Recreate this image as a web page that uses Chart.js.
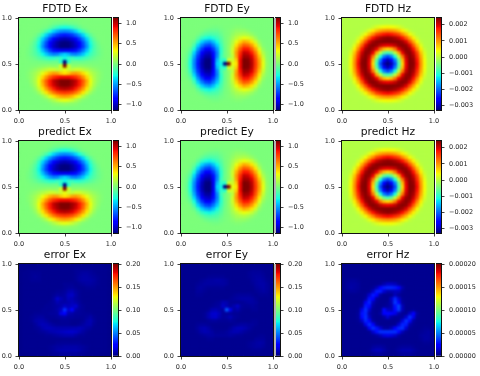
<!DOCTYPE html>
<html>
<head>
<meta charset="utf-8">
<script src="https://cdn.jsdelivr.net/npm/chart.js@4"></script>
<style>
  html, body { margin: 0; padding: 0; background: #fff; }
  #page { position: relative; width: 480px; height: 376px; overflow: hidden; }
  canvas { position: absolute; }
  .gap { position: absolute; background: #b4b4b4; }
</style>
</head>
<body>
<div id="page"></div>
<script>
// cell centres of the image grids
const gridOdd = [0.02,0.06,0.10,0.14,0.18,0.22,0.26,0.30,0.34,0.38,0.42,0.46,0.50,0.54,0.58,0.62,0.66,0.70,0.74,0.78,0.82,0.86,0.90,0.94,0.98];
const gridEven = [0.0208,0.0625,0.1042,0.1458,0.1875,0.2292,0.2708,0.3125,0.3542,0.3958,0.4375,0.4792,0.5208,0.5625,0.6042,0.6458,0.6875,0.7292,0.7708,0.8125,0.8542,0.8958,0.9375,0.9792];

// Ex, unit 0.01, rows from top to bottom
const fdtdEx = [
[0,0,0,0,0,0,0,0,0,0,0,0,0,0,0,0,0,0,0,0,0,0,0,0,0],
[0,0,0,0,0,0,0,0,-1,-3,-4,-5,-6,-5,-4,-3,-1,0,0,0,0,0,0,0,0],
[0,0,0,0,0,0,-1,-2,-7,-13,-20,-26,-28,-26,-20,-13,-7,-2,-1,0,0,0,0,0,0],
[0,0,0,0,0,-1,-6,-15,-27,-38,-47,-53,-55,-53,-47,-38,-27,-15,-6,-1,0,0,0,0,0],
[0,0,0,0,-2,-9,-22,-38,-52,-64,-73,-78,-80,-78,-73,-64,-52,-38,-22,-9,-2,0,0,0,0],
[0,0,0,-1,-7,-20,-38,-56,-72,-86,-95,-101,-103,-101,-95,-86,-72,-56,-38,-20,-7,-1,0,0,0],
[0,0,0,-4,-12,-27,-48,-68,-86,-97,-106,-112,-114,-112,-106,-97,-86,-68,-48,-27,-12,-4,0,0,0],
[0,0,-1,-6,-14,-30,-52,-71,-87,-100,-107,-113,-115,-113,-107,-100,-87,-71,-52,-30,-14,-6,-1,0,0],
[0,0,-2,-6,-13,-25,-42,-58,-72,-82,-88,-91,-91,-91,-88,-82,-72,-58,-42,-25,-13,-6,-2,0,0],
[0,0,-2,-6,-11,-18,-29,-40,-50,-56,-54,-44,-38,-44,-54,-56,-50,-40,-29,-18,-11,-6,-2,0,0],
[0,0,-1,-3,-6,-10,-14,-18,-22,-22,-18,-22,-30,-22,-18,-22,-22,-18,-14,-10,-6,-3,-1,0,0],
[0,0,0,-1,-1,-2,-3,-4,-5,-4,-5,-23,-115,-23,-5,-4,-5,-4,-3,-2,-1,-1,0,0,0],
[0,0,0,1,1,2,3,4,5,4,5,23,115,23,5,4,5,4,3,2,1,1,0,0,0],
[0,0,1,3,6,10,14,18,22,22,18,22,30,22,18,22,22,18,14,10,6,3,1,0,0],
[0,0,2,6,11,18,29,40,50,56,54,44,38,44,54,56,50,40,29,18,11,6,2,0,0],
[0,0,2,6,13,25,42,58,72,82,88,91,91,91,88,82,72,58,42,25,13,6,2,0,0],
[0,0,1,6,14,30,52,71,87,100,107,113,115,113,107,100,87,71,52,30,14,6,1,0,0],
[0,0,0,4,12,27,48,68,86,97,106,112,114,112,106,97,86,68,48,27,12,4,0,0,0],
[0,0,0,1,7,20,38,56,72,86,95,101,103,101,95,86,72,56,38,20,7,1,0,0,0],
[0,0,0,0,2,9,22,38,52,64,73,78,80,78,73,64,52,38,22,9,2,0,0,0,0],
[0,0,0,0,0,1,6,15,27,38,47,53,55,53,47,38,27,15,6,1,0,0,0,0,0],
[0,0,0,0,0,0,1,2,7,13,20,26,28,26,20,13,7,2,1,0,0,0,0,0,0],
[0,0,0,0,0,0,0,0,1,3,4,5,6,5,4,3,1,0,0,0,0,0,0,0,0],
[0,0,0,0,0,0,0,0,0,0,0,0,0,0,0,0,0,0,0,0,0,0,0,0,0]
];

// Ey, unit 0.01, rows from top to bottom
const fdtdEy = [
[0,0,0,0,0,0,0,0,0,0,0,0,0,0,0,0,0,0,0,0,0,0,0,0],
[0,0,0,0,0,0,0,0,0,0,0,0,0,0,0,0,0,0,0,0,0,0,0,0],
[0,0,0,0,0,0,0,-1,-2,-2,-1,0,0,1,2,2,1,0,0,0,0,0,0,0],
[0,0,0,0,0,-1,-4,-6,-6,-6,-3,-1,1,3,6,6,6,4,1,0,0,0,0,0],
[0,0,0,0,-2,-7,-12,-14,-13,-11,-6,-1,1,6,11,13,14,12,7,2,0,0,0,0],
[0,0,0,-1,-9,-20,-27,-30,-25,-18,-10,-2,2,10,18,25,30,27,20,9,1,0,0,0],
[0,0,-1,-6,-22,-38,-48,-52,-42,-29,-14,-3,3,14,29,42,52,48,38,22,6,1,0,0],
[0,0,-2,-15,-38,-56,-68,-71,-58,-40,-18,-4,4,18,40,58,71,68,56,38,15,2,0,0],
[0,-1,-7,-27,-52,-72,-86,-87,-72,-50,-22,-5,5,22,50,72,87,86,72,52,27,7,1,0],
[0,-3,-13,-38,-64,-86,-97,-100,-82,-56,-22,-4,4,22,56,82,100,97,86,64,38,13,3,0],
[0,-4,-20,-47,-73,-95,-106,-107,-88,-54,-18,-5,5,18,54,88,107,106,95,73,47,20,4,0],
[0,-5,-26,-53,-78,-101,-112,-113,-91,-44,-22,-23,23,22,44,91,113,112,101,78,53,26,5,0],
[0,-6,-28,-55,-80,-103,-114,-115,-91,-38,-30,-115,115,30,38,91,115,114,103,80,55,28,6,0],
[0,-5,-26,-53,-78,-101,-112,-113,-91,-44,-22,-23,23,22,44,91,113,112,101,78,53,26,5,0],
[0,-4,-20,-47,-73,-95,-106,-107,-88,-54,-18,-5,5,18,54,88,107,106,95,73,47,20,4,0],
[0,-3,-13,-38,-64,-86,-97,-100,-82,-56,-22,-4,4,22,56,82,100,97,86,64,38,13,3,0],
[0,-1,-7,-27,-52,-72,-86,-87,-72,-50,-22,-5,5,22,50,72,87,86,72,52,27,7,1,0],
[0,0,-2,-15,-38,-56,-68,-71,-58,-40,-18,-4,4,18,40,58,71,68,56,38,15,2,0,0],
[0,0,-1,-6,-22,-38,-48,-52,-42,-29,-14,-3,3,14,29,42,52,48,38,22,6,1,0,0],
[0,0,0,-1,-9,-20,-27,-30,-25,-18,-10,-2,2,10,18,25,30,27,20,9,1,0,0,0],
[0,0,0,0,-2,-7,-12,-14,-13,-11,-6,-1,1,6,11,13,14,12,7,2,0,0,0,0],
[0,0,0,0,0,-1,-4,-6,-6,-6,-3,-1,1,3,6,6,6,4,1,0,0,0,0,0],
[0,0,0,0,0,0,0,-1,-2,-2,-1,0,0,1,2,2,1,0,0,0,0,0,0,0],
[0,0,0,0,0,0,0,0,0,0,0,0,0,0,0,0,0,0,0,0,0,0,0,0],
[0,0,0,0,0,0,0,0,0,0,0,0,0,0,0,0,0,0,0,0,0,0,0,0]
];

// Hz, unit 0.00001, rows from top to bottom
const fdtdHz = [
[-5,-5,-5,-5,-5,-5,-5,-5,-5,-5,-5,-5,-5,-5,-5,-5,-5,-5,-5,-5,-5,-5,-5,-5,-5],
[-5,-5,-5,-5,-5,-5,-5,-5,-5,-4,-3,-2,-1,-2,-3,-4,-5,-5,-5,-5,-5,-5,-5,-5,-5],
[-5,-5,-5,-5,-5,-5,-5,-3,7,21,31,38,40,38,31,21,7,-3,-5,-5,-5,-5,-5,-5,-5],
[-5,-5,-5,-5,-5,-4,5,27,50,73,91,101,105,101,91,73,50,27,5,-4,-5,-5,-5,-5,-5],
[-5,-5,-5,-5,-4,13,40,77,110,148,165,180,185,180,165,148,110,77,40,13,-4,-5,-5,-5,-5],
[-5,-5,-5,-4,13,46,91,137,180,204,221,231,235,231,221,204,180,137,91,46,13,-4,-5,-5,-5],
[-5,-5,-5,5,40,91,146,195,225,237,238,240,240,240,238,237,225,195,146,91,40,5,-5,-5,-5],
[-5,-5,-3,27,77,137,195,231,238,231,210,195,190,195,210,231,238,231,195,137,77,27,-3,-5,-5],
[-5,-5,7,50,110,180,225,238,223,190,121,76,60,76,121,190,223,238,225,180,110,50,7,-5,-5],
[-5,-4,21,73,148,204,237,231,190,91,3,-62,-85,-62,3,91,190,231,237,204,148,73,21,-4,-5],
[-5,-3,31,91,165,221,238,210,121,3,-107,-184,-215,-184,-107,3,121,210,238,221,165,91,31,-3,-5],
[-5,-2,38,101,180,231,240,195,76,-62,-184,-265,-300,-265,-184,-62,76,195,240,231,180,101,38,-2,-5],
[-5,-1,40,105,185,235,240,190,60,-85,-215,-300,-327,-300,-215,-85,60,190,240,235,185,105,40,-1,-5],
[-5,-2,38,101,180,231,240,195,76,-62,-184,-265,-300,-265,-184,-62,76,195,240,231,180,101,38,-2,-5],
[-5,-3,31,91,165,221,238,210,121,3,-107,-184,-215,-184,-107,3,121,210,238,221,165,91,31,-3,-5],
[-5,-4,21,73,148,204,237,231,190,91,3,-62,-85,-62,3,91,190,231,237,204,148,73,21,-4,-5],
[-5,-5,7,50,110,180,225,238,223,190,121,76,60,76,121,190,223,238,225,180,110,50,7,-5,-5],
[-5,-5,-3,27,77,137,195,231,238,231,210,195,190,195,210,231,238,231,195,137,77,27,-3,-5,-5],
[-5,-5,-5,5,40,91,146,195,225,237,238,240,240,240,238,237,225,195,146,91,40,5,-5,-5,-5],
[-5,-5,-5,-4,13,46,91,137,180,204,221,231,235,231,221,204,180,137,91,46,13,-4,-5,-5,-5],
[-5,-5,-5,-5,-4,13,40,77,110,148,165,180,185,180,165,148,110,77,40,13,-4,-5,-5,-5,-5],
[-5,-5,-5,-5,-5,-4,5,27,50,73,91,101,105,101,91,73,50,27,5,-4,-5,-5,-5,-5,-5],
[-5,-5,-5,-5,-5,-5,-5,-3,7,21,31,38,40,38,31,21,7,-3,-5,-5,-5,-5,-5,-5,-5],
[-5,-5,-5,-5,-5,-5,-5,-5,-5,-4,-3,-2,-1,-2,-3,-4,-5,-5,-5,-5,-5,-5,-5,-5,-5],
[-5,-5,-5,-5,-5,-5,-5,-5,-5,-5,-5,-5,-5,-5,-5,-5,-5,-5,-5,-5,-5,-5,-5,-5,-5]
];

// the predict panels cannot be told apart from FDTD at this size
const predictEx = fdtdEx;
const predictEy = fdtdEy;
const predictHz = fdtdHz;

// error Ex, unit 0.001
const errorEx = [
[2,2,2,2,2,3,3,3,3,3,3,3,3,3,3,3,3,3,3,3,3,3,3,2,2],
[2,2,3,3,3,3,3,3,3,3,3,3,3,3,3,4,4,4,4,4,3,3,3,3,2],
[2,3,3,4,4,4,3,3,3,3,3,3,3,3,3,4,5,6,6,5,4,3,3,3,2],
[2,3,3,4,5,4,3,3,3,3,3,3,3,3,3,4,6,7,7,6,5,4,3,3,2],
[2,3,3,4,4,4,3,3,3,3,3,3,3,3,3,4,6,7,7,7,6,4,3,3,2],
[2,3,3,3,3,3,3,3,3,3,3,3,4,4,4,3,4,5,6,6,5,4,3,3,2],
[2,3,3,3,3,3,3,3,3,3,3,3,4,5,5,4,3,3,4,4,4,3,3,3,2],
[2,3,3,3,3,3,3,3,3,3,4,4,5,8,9,6,4,3,3,3,3,3,3,3,2],
[2,3,3,3,3,3,3,3,3,4,6,5,6,11,12,7,4,3,3,3,3,3,3,3,2],
[2,3,3,3,3,3,3,3,3,6,13,9,6,10,9,6,4,3,3,3,3,3,3,3,2],
[2,3,3,3,3,3,3,3,4,5,9,7,7,8,10,8,5,3,3,3,3,3,3,3,2],
[2,3,3,3,3,3,3,4,4,5,6,8,12,10,12,14,6,4,3,3,3,3,3,3,2],
[2,3,3,3,3,3,4,4,4,5,7,12,34,14,22,8,5,4,3,3,3,3,3,3,2],
[2,3,3,3,4,4,4,4,5,5,6,18,22,9,7,5,5,4,4,4,3,3,3,3,2],
[2,3,3,4,5,6,6,4,4,4,5,6,7,5,5,4,4,4,5,7,4,3,3,3,2],
[2,3,3,4,7,8,8,6,4,3,3,4,4,4,3,3,3,4,7,9,5,3,3,3,2],
[2,3,3,3,5,8,10,9,7,5,4,4,4,4,3,3,4,6,8,8,4,3,3,3,2],
[2,3,3,3,4,5,8,10,10,9,8,8,8,8,9,9,10,8,6,5,3,3,3,3,2],
[2,3,3,3,3,4,5,6,8,9,10,11,12,13,13,12,9,6,4,3,3,3,3,3,2],
[2,3,3,3,3,3,3,4,4,5,6,7,8,8,8,6,4,4,3,3,3,3,3,3,2],
[2,3,3,3,3,3,3,3,3,3,3,3,3,3,3,3,3,3,3,3,3,3,3,3,2],
[2,3,3,3,3,3,3,3,3,3,4,4,4,4,4,4,4,3,3,3,3,3,3,3,2],
[2,3,3,3,3,3,3,3,4,5,6,6,7,7,7,7,6,5,4,3,3,3,3,3,2],
[2,3,3,3,3,3,3,3,4,5,7,8,8,8,8,8,7,5,4,3,3,3,3,3,2],
[2,2,2,3,3,3,3,3,3,4,4,5,5,5,5,5,4,4,3,3,3,3,2,2,2]
];

// error Ey, unit 0.001
const errorEy = [
[3,3,3,3,3,3,3,3,3,3,3,3,3,3,3,3,3,3,3,3,3,3,3,3,3],
[3,3,3,3,3,3,3,3,3,3,3,3,3,3,3,3,3,3,3,4,4,4,3,3,3],
[3,3,3,3,3,3,3,3,3,3,3,3,3,3,3,3,3,3,4,5,5,5,4,3,3],
[3,3,3,3,3,3,3,4,4,4,4,4,3,3,3,3,3,3,4,5,6,6,5,3,3],
[3,3,3,3,3,4,5,6,6,7,7,6,5,3,3,3,3,3,3,5,6,7,6,4,3],
[3,3,3,3,4,5,6,6,6,6,6,6,5,3,3,3,3,3,3,4,6,7,7,5,3],
[3,3,3,3,5,6,5,4,4,4,4,4,3,3,3,3,3,3,3,3,5,6,7,5,3],
[3,3,3,3,5,5,4,3,3,3,3,3,3,3,3,3,3,3,3,3,4,5,6,5,3],
[3,3,3,3,4,4,3,3,3,3,3,3,3,3,4,5,5,5,5,4,3,4,4,4,3],
[3,3,3,3,3,3,3,3,3,3,3,3,3,4,5,6,7,7,7,6,4,3,3,3,3],
[3,3,3,3,3,3,3,3,3,4,5,9,8,4,4,4,4,5,6,6,5,3,3,3,3],
[3,3,3,3,3,3,3,3,4,5,6,12,9,5,8,12,5,4,4,5,4,3,3,3,3],
[3,3,3,3,3,3,3,4,8,9,7,6,42,18,6,8,4,3,3,4,4,3,3,3,3],
[3,3,3,3,3,3,4,8,13,14,10,5,5,5,4,4,3,3,3,3,3,3,3,3,3],
[3,3,3,3,3,3,4,8,12,13,8,5,6,9,5,4,3,3,3,3,3,3,3,3,3],
[3,3,3,3,3,3,3,4,5,5,4,4,4,5,4,3,3,3,3,4,4,3,3,3,3],
[3,3,3,3,4,5,5,4,3,3,3,3,3,3,4,5,6,6,5,5,4,3,3,3,3],
[3,3,3,3,5,8,9,7,4,3,3,3,3,5,8,10,10,8,6,4,3,3,3,3,3],
[3,3,3,3,4,7,9,8,6,4,4,4,5,7,9,9,7,5,4,3,3,3,3,3,3],
[3,3,3,3,3,4,5,6,6,5,5,5,5,6,5,4,4,3,3,3,3,4,4,3,3],
[3,3,3,3,3,3,3,4,4,3,3,3,3,3,3,3,3,3,3,3,5,5,5,3,3],
[3,3,3,3,3,3,3,3,3,3,3,3,3,3,3,3,3,3,4,5,6,7,6,3,3],
[3,3,3,3,3,3,3,3,3,3,3,3,3,3,3,3,3,3,4,5,6,6,5,3,3],
[3,3,3,3,3,3,3,3,3,3,3,3,3,3,3,3,3,3,3,4,4,4,3,3,3],
[3,3,3,3,3,3,3,3,3,3,3,3,3,3,3,3,3,3,3,3,3,3,3,3,3]
];

// error Hz, unit 0.000001
const errorHz = [
[3,3,3,3,3,3,3,3,3,3,3,3,3,3,3,3,3,3,3,3,3,3,3,3,3],
[3,3,3,3,3,3,3,3,3,3,3,3,3,3,3,3,3,3,3,3,3,3,3,3,3],
[3,3,3,3,3,3,3,3,3,3,3,3,3,3,3,3,3,3,3,3,3,3,3,3,3],
[3,3,3,3,3,3,3,3,3,3,3,3,3,3,3,3,3,3,3,3,3,3,3,3,3],
[3,4,5,5,4,3,3,3,3,3,3,3,3,3,3,3,3,3,3,3,3,3,3,3,3],
[3,5,6,6,5,3,3,3,3,3,4,8,12,12,10,5,3,3,3,3,3,3,3,3,3],
[3,5,7,6,5,3,3,3,4,10,22,30,32,32,30,24,8,3,3,3,3,3,3,3,3],
[3,4,5,5,4,3,3,4,12,30,30,14,8,8,10,10,4,3,3,3,3,3,3,3,3],
[3,3,3,3,3,3,4,14,30,22,6,3,3,3,10,5,3,3,3,3,3,3,3,3,3],
[3,3,3,3,3,3,6,28,24,6,3,3,3,12,32,14,4,3,3,3,3,3,3,3,3],
[3,3,3,3,3,4,20,32,10,4,3,3,4,10,36,22,5,3,3,3,3,3,3,3,3],
[3,3,3,3,3,6,30,26,6,3,3,4,5,8,28,38,10,3,3,3,3,3,3,3,3],
[3,3,3,3,4,18,34,14,4,3,4,26,12,10,26,36,10,3,3,4,3,3,3,3,3],
[3,3,3,3,5,28,32,8,4,3,6,24,26,24,18,8,4,4,12,22,6,3,3,3,3],
[3,3,3,3,5,26,34,12,4,3,3,6,14,6,4,4,5,14,34,18,4,3,3,3,3],
[3,3,3,3,4,12,32,24,6,3,3,3,3,3,3,4,16,34,26,6,3,3,3,3,3],
[3,3,3,3,3,4,18,34,24,6,3,3,3,3,4,14,32,30,8,4,3,3,3,3,3],
[3,3,3,3,3,3,4,20,34,28,14,6,5,10,22,32,34,14,4,3,3,3,4,4,3],
[3,3,3,3,3,3,3,4,14,28,34,34,34,34,34,26,10,4,3,3,3,4,5,6,4],
[3,3,3,3,3,3,3,3,4,6,10,16,18,16,12,6,3,3,3,3,3,5,6,6,4],
[3,3,3,3,3,3,3,3,3,3,3,3,3,3,3,3,3,3,3,3,3,4,6,6,4],
[3,3,3,3,3,3,3,3,3,3,3,3,3,3,3,3,3,3,3,3,3,3,4,4,3],
[3,3,3,3,3,3,3,3,5,6,6,5,3,3,3,4,5,5,5,4,3,3,3,3,3],
[3,3,3,3,3,3,3,4,8,10,10,7,4,3,4,6,8,8,8,6,4,3,3,3,3],
[3,3,3,3,3,3,3,3,4,5,5,4,3,3,3,4,5,5,5,4,3,3,3,3,3]
];

const axisTicks = [0, 0.5, 1];
const axisLabels = ['0.0', '0.5', '1.0'];

const fieldTicks = [-1, -0.5, 0, 0.5, 1];
const fieldLabels = ['\u22121.0', '\u22120.5', '0.0', '0.5', '1.0'];
const hzTicks = [-0.003, -0.002, -0.001, 0, 0.001, 0.002];
const hzLabels = ['\u22120.003', '\u22120.002', '\u22120.001', '0.000', '0.001', '0.002'];
const errTicks = [0, 0.05, 0.1, 0.15, 0.2];
const errLabels = ['0.00', '0.05', '0.10', '0.15', '0.20'];
const errHzTicks = [0, 0.00005, 0.0001, 0.00015, 0.0002];
const errHzLabels = ['0.00000', '0.00005', '0.00010', '0.00015', '0.00020'];

const colLefts = [19, 181, 342];
const rowTops = [18, 141, 264];
const plotSize = 92;
const cbOffset = 94;   // plot left to colorbar left
const cbWidth = 5;
const font = "'DejaVu Sans', sans-serif";
const textColor = '#262626';

const panels = [
  { title: 'FDTD Ex', rows: fdtdEx, xs: gridOdd, ys: gridEven, unit: 0.01, min: -1.13, max: 1.13, ticks: fieldTicks, labels: fieldLabels },
  { title: 'FDTD Ey', rows: fdtdEy, xs: gridEven, ys: gridOdd, unit: 0.01, min: -1.13, max: 1.13, ticks: fieldTicks, labels: fieldLabels },
  { title: 'FDTD Hz', rows: fdtdHz, xs: gridOdd, ys: gridOdd, unit: 0.00001, min: -0.00327, max: 0.00242, ticks: hzTicks, labels: hzLabels },
  { title: 'predict Ex', rows: predictEx, xs: gridOdd, ys: gridEven, unit: 0.01, min: -1.13, max: 1.13, ticks: fieldTicks, labels: fieldLabels },
  { title: 'predict Ey', rows: predictEy, xs: gridEven, ys: gridOdd, unit: 0.01, min: -1.13, max: 1.13, ticks: fieldTicks, labels: fieldLabels },
  { title: 'predict Hz', rows: predictHz, xs: gridOdd, ys: gridOdd, unit: 0.00001, min: -0.00327, max: 0.00242, ticks: hzTicks, labels: hzLabels },
  { title: 'error Ex', rows: errorEx, xs: gridOdd, ys: gridOdd, unit: 0.001, min: 0, max: 0.2, ticks: errTicks, labels: errLabels },
  { title: 'error Ey', rows: errorEy, xs: gridOdd, ys: gridOdd, unit: 0.001, min: 0, max: 0.2, ticks: errTicks, labels: errLabels },
  { title: 'error Hz', rows: errorHz, xs: gridOdd, ys: gridOdd, unit: 0.000001, min: 0, max: 0.0002, ticks: errHzTicks, labels: errHzLabels }
];

// matplotlib jet
const jetStops = [
  [0, 0, 0, 127], [0.11, 0, 0, 255], [0.125, 0, 0, 255], [0.34, 0, 219, 255], [0.35, 0, 229, 246],
  [0.375, 20, 255, 226], [0.64, 240, 255, 8], [0.66, 255, 236, 0], [0.89, 255, 18, 0], [0.91, 232, 0, 0], [1, 127, 0, 0]
];

function jet(t) {
  t = Math.max(0, Math.min(1, t));
  for (let i = 1; i < jetStops.length; i++) {
    const a = jetStops[i - 1], b = jetStops[i];
    if (t <= b[0]) {
      const f = (t - a[0]) / (b[0] - a[0]);
      return 'rgb(' + [1, 2, 3].map(k => Math.round(a[k] + (b[k] - a[k]) * f)).join(',') + ')';
    }
  }
}

// soften the drawn cells so the image looks like a smooth field
const smoothCells = {
  id: 'smoothCells',
  afterDatasetsDraw(chart) {
    const a = chart.chartArea;
    const w = Math.round(a.right - a.left), h = Math.round(a.bottom - a.top);
    const tmp = document.createElement('canvas');
    tmp.width = w;
    tmp.height = h;
    tmp.getContext('2d').drawImage(chart.canvas, a.left, a.top, w, h, 0, 0, w, h);
    const ctx = chart.ctx;
    ctx.save();
    ctx.beginPath();
    ctx.rect(a.left, a.top, w, h);
    ctx.clip();
    ctx.filter = 'blur(1.2px)';
    ctx.drawImage(tmp, a.left, a.top);
    ctx.restore();
  }
};

const frame = {
  id: 'frame',
  afterDraw(chart) {
    const a = chart.chartArea, ctx = chart.ctx;
    ctx.save();
    ctx.strokeStyle = '#111';
    ctx.lineWidth = 1;
    ctx.strokeRect(Math.round(a.left) - 0.5, Math.round(a.top) - 0.5, Math.round(a.right - a.left) + 1, Math.round(a.bottom - a.top) + 1);
    ctx.restore();
  }
};

// fixed box sizes, so that the plot area lands where it should
function fixBox(scale, size) {
  if (scale.isHorizontal()) scale.height = size; else scale.width = size;
  scale.paddingLeft = scale.paddingRight = scale.paddingTop = scale.paddingBottom = 0;
}

function tickAxis(values, labels, position, size, pad) {
  return {
    position,
    afterBuildTicks: s => { s.ticks = values.map(v => ({ value: v })); },
    afterFit: s => fixBox(s, size),
    grid: { display: true, drawOnChartArea: false, tickLength: 3.5, tickWidth: 0.8, color: '#111' },
    border: { display: true, color: '#111', width: 1 },
    ticks: {
      autoSkip: false, maxRotation: 0, padding: pad, color: textColor,
      font: { family: font, size: 6.5 },
      callback: (v, i) => labels[i]
    }
  };
}

function addCanvas(left, top, width, height) {
  const c = document.createElement('canvas');
  c.width = width;
  c.height = height;
  c.style.left = left + 'px';
  c.style.top = top + 'px';
  c.style.width = width + 'px';
  c.style.height = height + 'px';
  document.getElementById('page').appendChild(c);
  return c;
}

function drawHeatmap(p, left, top) {
  const points = [], colors = [];
  p.rows.forEach((row, j) => {
    row.forEach((v, i) => {
      points.push({ x: p.xs[i], y: p.ys[p.ys.length - 1 - j] });
      colors.push(jet((v * p.unit - p.min) / (p.max - p.min)));
    });
  });
  const canvas = addCanvas(left - 19, top - 18, 19 + plotSize + 19, 18 + plotSize + 16);
  new Chart(canvas, {
    type: 'scatter',
    data: { datasets: [{ data: points, backgroundColor: colors, pointStyle: 'rect', pointRadius: 3, pointBorderWidth: 0, pointHoverRadius: 3 }] },
    options: {
      responsive: false, animation: false, events: [],
      scales: {
        x: Object.assign(tickAxis(axisTicks, axisLabels, 'bottom', 16, 3.5), { type: 'linear', min: 0, max: 1 }),
        y: Object.assign(tickAxis(axisTicks, axisLabels, 'left', 19, 3.5), { type: 'linear', min: 0, max: 1 }),
        // empty axis on the right keeps the title centred over the plot
        side: {
          type: 'linear', position: 'right', min: 0, max: 1,
          grid: { display: false }, border: { display: false }, ticks: { display: false },
          afterFit: s => fixBox(s, 19)
        }
      },
      plugins: {
        legend: { display: false },
        tooltip: { enabled: false },
        title: { display: true, text: p.title, color: '#111', font: { family: font, size: 10.7, weight: 'normal' }, padding: { top: 3, bottom: 2.2 } }
      }
    },
    plugins: [smoothCells, frame]
  });
}

function drawColorbar(p, left, top) {
  const canvas = addCanvas(left, top - 5, cbWidth + 38, plotSize + 10);
  new Chart(canvas, {
    type: 'bar',
    data: {
      labels: [''],
      datasets: [{
        data: [[p.min, p.max]],
        barPercentage: 1, categoryPercentage: 1, borderSkipped: false, borderWidth: 0,
        backgroundColor: ctx => {
          const y = ctx.chart.scales.y;
          if (!ctx.chart.chartArea || !y) return '#000';
          const g = ctx.chart.ctx.createLinearGradient(0, y.getPixelForValue(p.min), 0, y.getPixelForValue(p.max));
          jetStops.forEach(s => g.addColorStop(s[0], 'rgb(' + s[1] + ',' + s[2] + ',' + s[3] + ')'));
          return g;
        }
      }]
    },
    options: {
      responsive: false, animation: false, events: [],
      layout: { padding: { top: 5, bottom: 5 } },
      scales: {
        x: { display: false },
        y: Object.assign(tickAxis(p.ticks, p.labels, 'right', 38, 4.5), { type: 'linear', min: p.min, max: p.max })
      },
      plugins: { legend: { display: false }, tooltip: { enabled: false }, title: { display: false } }
    },
    plugins: [frame]
  });
}

panels.forEach((p, n) => {
  const left = colLefts[n % 3], top = rowTops[Math.floor(n / 3)];
  drawHeatmap(p, left, top);
  drawColorbar(p, left + cbOffset, top);
  // the middle column has a grey sliver between image and colorbar
  if (n % 3 === 1) {
    const gap = document.createElement('div');
    gap.className = 'gap';
    gap.style.cssText = 'left:' + (left + plotSize + 1) + 'px;top:' + top + 'px;width:2px;height:' + plotSize + 'px';
    document.getElementById('page').appendChild(gap);
  }
});
</script>
</body>
</html>
